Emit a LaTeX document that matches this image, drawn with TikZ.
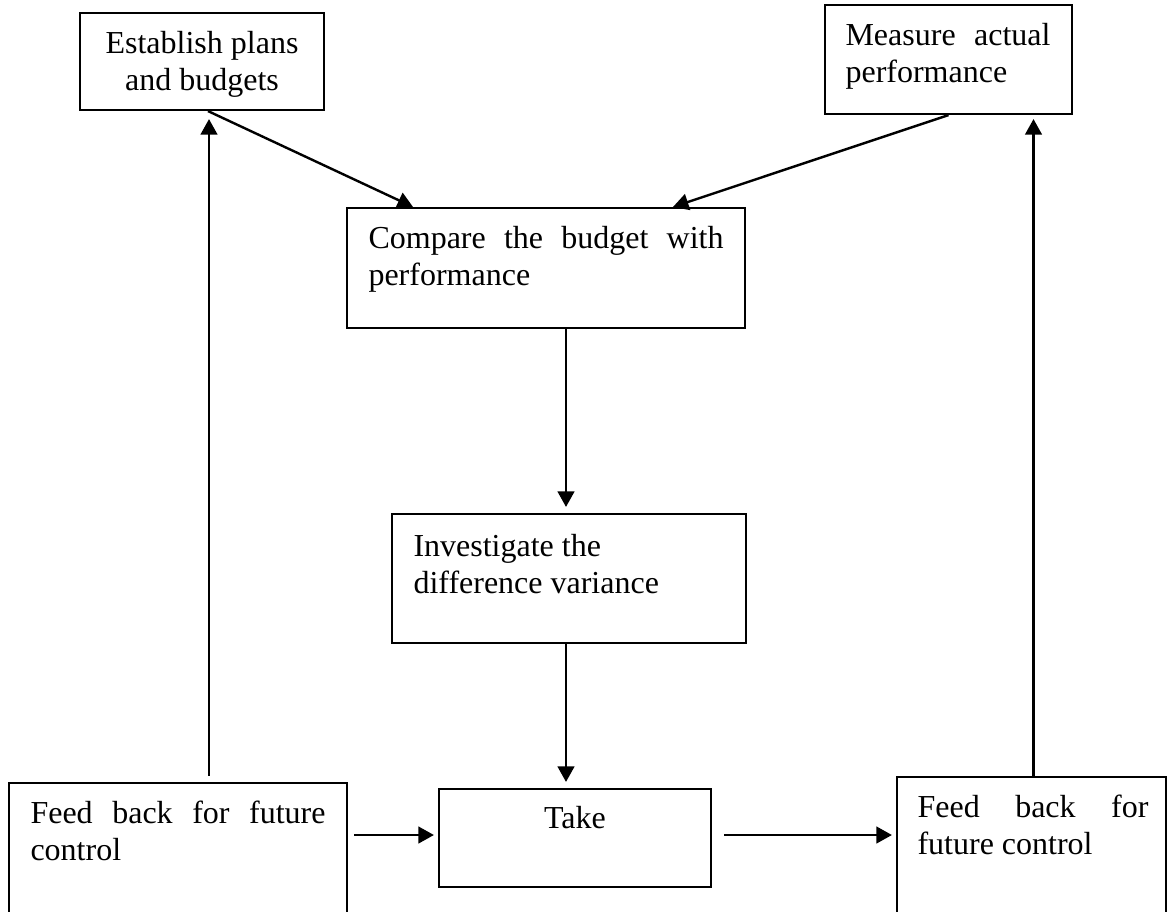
\documentclass[tikz,border=0pt]{standalone}
\usepackage{fontspec}
\setmainfont{Liberation Serif}
\usetikzlibrary{arrows.meta,calc,fit}
\newdimen\px \px=0.375pt
\begin{document}
\begin{tikzpicture}[x=0.375pt,y=-0.375pt,
  box/.style={draw, line width=0.8pt, inner sep=0pt},
  txt/.style={inner sep=0pt, font=\fontsize{12}{13.9}\selectfont, align=left},
  arr/.style={line width=0.9pt, -{Triangle[length=5.8pt,width=6.2pt]}}]
\useasboundingbox (0,0) rectangle (1170,911);
\clip (0,0) rectangle (1170,911);
% boxes
\node[box, fit={(80,13)(324,110)}] (est) {};
\node[box, fit={(825,5)(1072,114)}] (meas) {};
\node[box, fit={(347,208)(745,328)}] (cmp) {};
\node[box, fit={(392,514)(746,643)}] (inv) {};
\node[box, fit={(9,783)(347,930)}] (fbl) {};
\node[box, fit={(439,789)(711,887)}] (take) {};
\node[box, fit={(897,777)(1166,930)}] (fbr) {};
% texts
\node[txt, align=center, anchor=north] (estT) at (202,27) {\strut Establish plans\\and budgets};
\node[txt, anchor=north west] (measT) at (845,19) {\strut\makebox[205\px][s]{Measure actual}\\performance};
\node[txt, anchor=north west] (cmpT) at (368,222) {\strut\makebox[355\px][s]{Compare the budget with}\\performance};
\node[txt, anchor=north west] (invT) at (413,530) {\strut Investigate the\\difference variance};
\node[txt, anchor=north west] (fblT) at (30,797) {\strut\makebox[295\px][s]{Feed back for future}\\control};
\node[txt, align=center, anchor=north] (takeT) at (575,802) {\strut Take};
\node[txt, anchor=north west] (fbrT) at (917,791) {\strut\makebox[231\px][s]{Feed back for}\\future control};
% connectors
\draw[arr] ($(est.south)+(6,0)$) -- ($(cmp.north)+(-133,0)$);
\draw[arr] (meas.south) -- ($(cmp.north)+(127,0)$);
\draw[arr] ($(cmp.south)+(20,0)$) -- ($(inv.north)+(-3,-6)$);
\draw[arr] ($(inv.south)+(-3,0)$) -- ($(take.north)+(-9,-6)$);
\draw[arr] ($(fbl.north)+(31,-6)$) -- ($(est.south)+(7,8)$);
\draw[arr] ($(fbr.north)+(2,0)$) -- ($(meas.south -| fbr.north)+(2,4)$);
\draw[arr] ($(fbl.east |- take.west)+(6,-3)$) -- ($(take.west)+(-4,-3)$);
\draw[arr] ($(take.east)+(12,-3)$) -- ($(fbr.west |- take.west)+(-4,-3)$);
\end{tikzpicture}
\end{document}
